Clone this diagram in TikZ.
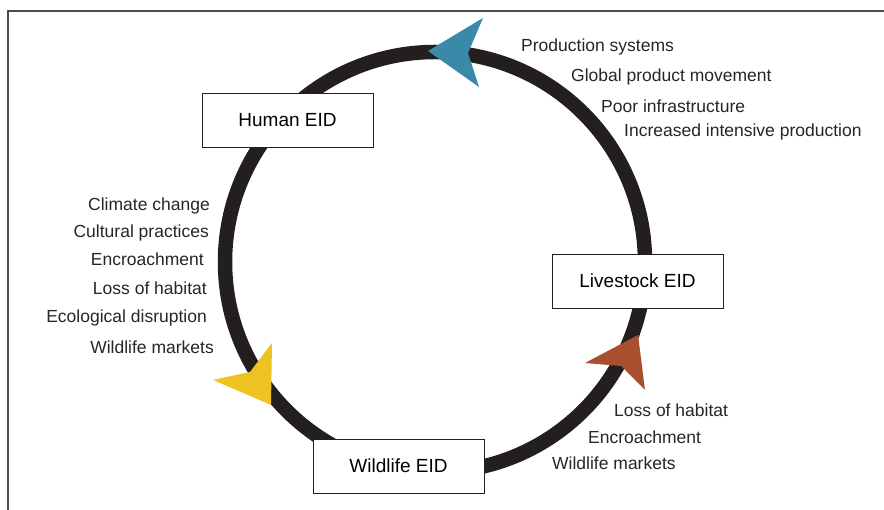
\documentclass[tikz,border=0pt]{standalone}
\usepackage{fontspec}
\setmainfont{Liberation Sans}
\usepackage{tikz}

\definecolor{ringcol}{RGB}{35,31,32}
\definecolor{humblue}{RGB}{58,137,168}
\definecolor{wildyel}{RGB}{238,194,32}
\definecolor{livbrown}{RGB}{168,80,45}

\begin{document}
\begin{tikzpicture}[x=1pt,y=1pt,
  eidbox/.style={draw=ringcol,line width=0.9pt,fill=white,minimum width=171pt,minimum height=54pt,font=\fontsize{19}{22}\selectfont},
  lab/.style={inner sep=0pt,text height=12.5pt,text depth=3.5pt,font=\fontsize{17.5}{20}\selectfont,text=black!85}]
  \useasboundingbox (0,0) rectangle (884,510);
  \draw[black!70,line width=1.2pt] (8,0) -- (8,499) -- (884,499);
  % the cycle
  \draw[ringcol,line width=14.5pt] (435,248) circle (210);
  % arrow heads
  \fill[humblue] (428,459) -- (483,492) -- (468,457) -- (479,423) -- cycle;
  \fill[wildyel] (271,105) -- (272,167) -- (250,138) -- (213,130) -- cycle;
  \fill[livbrown] (638,175) -- (585,147) -- (621,144) -- (645,120) -- cycle;
  % boxes
  \node[eidbox] (human) at (287.5,389.5) {Human EID};
  \node[eidbox] (livestock) at (637.5,229) {Livestock EID};
  \node[eidbox] (wildlife) at (398.5,44) {Wildlife EID};
  % drivers, livestock to human
  \node[lab,anchor=west] (ps) at (521,463) {Production systems};
  \node[lab,anchor=west] (gpm) at (571,433) {Global product movement};
  \node[lab,anchor=west] (pi) at (601,402) {Poor infrastructure};
  \node[lab,anchor=west] (iip) at (624,378) {Increased intensive production};
  % drivers, human to wildlife
  \node[lab,anchor=east] (cc) at (210,304) {Climate change};
  \node[lab,anchor=east] (cp) at (209,277) {Cultural practices};
  \node[lab,anchor=east] (enc) at (204,249) {Encroachment};
  \node[lab,anchor=east] (loh) at (207,220) {Loss of habitat};
  \node[lab,anchor=east] (ed) at (207,192) {Ecological disruption};
  \node[lab,anchor=east] (wm) at (214,161) {Wildlife markets};
  % drivers, wildlife to livestock
  \node[lab,anchor=west] (loh2) at (614,98) {Loss of habitat};
  \node[lab,anchor=west] (enc2) at (588,71) {Encroachment};
  \node[lab,anchor=west] (wm2) at (552,45) {Wildlife markets};
\end{tikzpicture}
\end{document}
